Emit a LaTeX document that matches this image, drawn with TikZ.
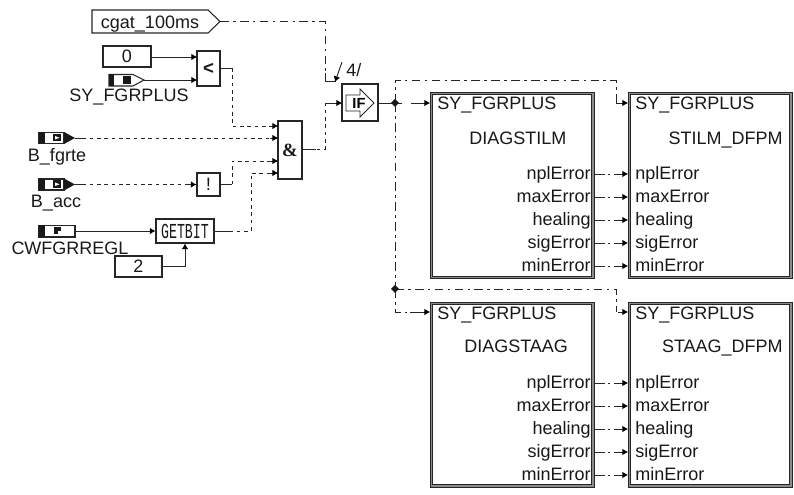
\documentclass[tikz,border=0pt]{standalone}
\usepackage{fontspec}
\setmainfont{Liberation Sans}
\newfontfamily\monof{Liberation Mono}
\newfontfamily\seriff{Liberation Serif}
\usetikzlibrary{arrows.meta,calc}
\tikzset{
  x=0.75pt,y=-0.75pt,
  wire/.style={line width=0.7pt,color=black!85},
  tip/.style={wire,-{Latex[length=4.2pt,width=5pt,black]}},
  logic/.style={wire,dash pattern=on 2.8pt off 2.7pt},
  calib/.style={wire,dash pattern=on 6.5pt off 3.2pt on 2pt off 3.2pt},
  port/.style={tip,dash pattern=on 8.5pt off 2.2pt on 1.8pt off 2.5pt on 20pt off 0pt},
  blk/.style={draw=black!85,line width=0.8pt,fill=white,inner sep=0pt,text=black!90},
  big/.style={draw=black!85,fill=white,line width=0.8pt,inner sep=0pt,
    double=black!45,double distance=1.1pt},
  lab/.style={inner sep=0pt,anchor=base,text=black!90,font=\fontsize{13.5pt}{15pt}\selectfont},
  labl/.style={lab,anchor=base west},
  labr/.style={lab,anchor=base east},
}
\begin{document}
\begin{tikzpicture}
\useasboundingbox (0,0) rectangle (794,495);

% input symbols
\draw[line width=0.8pt,color=black!85] (92,10) -- (208,10) -- (220,21.5) -- (208,33) -- (92,33) -- cycle;
\coordinate (cgatout) at (220,21.5);
\node[lab] (cgatlab) at (150,29) {cgat\_100ms};

\node[blk,minimum width=36pt,minimum height=15.75pt] (zero) at (127,56.5) {};
\node[lab] (zerolab) at (127,63) {0};

\draw[line width=0.8pt,color=black!85,fill=white] (109,74.5) -- (133,74.5) -- (144,80) -- (133,86) -- (109,86) -- cycle;
\fill[black!90] (109,74.5) rectangle (114,86);
\fill[black!90] (123,76.5) rectangle (131,84);
\coordinate (syout) at (144,80);
\node[lab] (sylab) at (129,102) {SY\_FGRPLUS};

\node[blk,minimum width=17.25pt,minimum height=26.25pt,font=\bfseries\fontsize{14pt}{14pt}\selectfont] (lt) at (208.5,68.5) {<};

% B_fgrte
\draw[line width=0.8pt,color=black!85,fill=white] (39,132.5) rectangle (64,143.5);
\fill[black!90] (39,132.5) rectangle (45,143.5);
\fill[black!90] (64,132) -- (75,138) -- (64,144) -- cycle;
\fill[black!90] (53,134) rectangle (61,141.5);
\fill[white] (55,136) -- (59.5,137.8) -- (55,139.5) -- cycle;
\coordinate (bfout) at (75,138);
\node[lab] (bflab) at (57,162) {B\_fgrte};

% B_acc
\draw[line width=0.8pt,color=black!85,fill=white] (39,179) rectangle (64,190);
\fill[black!90] (39,179) rectangle (45,190);
\fill[black!90] (64,178.5) -- (75,184.5) -- (64,190.5) -- cycle;
\fill[black!90] (53,180.5) rectangle (61,188);
\fill[white] (55,182.5) -- (59.5,184.3) -- (55,186) -- cycle;
\coordinate (baout) at (75,184.5);
\node[lab] (balab) at (56,208) {B\_acc};

% CWFGRREGL
\draw[line width=0.8pt,color=black!85,fill=white] (39,225.5) rectangle (75,237);
\fill[black!90] (39,225.5) rectangle (45,237);
\fill[black!90] (54,227.5) rectangle (61,234.5);
\fill[white] (57.5,231) rectangle (61,234.5);
\coordinate (cwout) at (75,231);
\node[lab] (cwlab) at (70,255) {CWFGRREGL};

\node[blk,minimum width=17.25pt,minimum height=17.25pt,font=\fontsize{14pt}{14pt}\monof] (nt) at (208.5,184.5) {!};

\node[blk,minimum width=43.5pt,minimum height=18pt] (gb) at (185,231) {\scalebox{0.62}[1]{\monof\fontsize{16pt}{16pt}\selectfont GETBIT}};

\node[blk,minimum width=35.25pt,minimum height=15.75pt,fill=none] (two) at (138.5,266.5) {};
\node[lab] (twolab) at (138.5,273) {2};

\node[blk,minimum width=18pt,minimum height=43.5pt,font=\seriff\bfseries\fontsize{14pt}{14pt}\selectfont] (an) at (290,150) {\&};

% IF block
\node[blk,minimum width=27pt,minimum height=27.75pt] (ifb) at (360,102.5) {};
\draw[line width=0.6pt,color=black!85,fill=white] (346,95) -- (360,95) -- (360,89) -- (374,103) -- (360,117) -- (360,111) -- (346,111) -- cycle;
\node[inner sep=0pt,font=\bfseries\fontsize{11pt}{11pt}\selectfont] (iflab) at (359,103) {IF};

% big boxes
\node[big,minimum width=121pt,minimum height=138pt,anchor=north west] (d1) at (431,93) {};
\node[big,minimum width=121pt,minimum height=138pt,anchor=north west] (s1) at (629,93) {};
\node[big,minimum width=121pt,minimum height=137pt,anchor=north west] (d2) at (431,303) {};
\node[big,minimum width=121pt,minimum height=137pt,anchor=north west] (s2) at (629,303) {};

\node[labl] (d1t) at (437,110) {SY\_FGRPLUS};
\node[labl] (s1t) at (635,110) {SY\_FGRPLUS};
\node[labl] (d2t) at (437,320) {SY\_FGRPLUS};
\node[labl] (s2t) at (635,320) {SY\_FGRPLUS};
\node[labl] (d1n) at (469,145) {DIAGSTILM};
\node[labl] (d2n) at (464,353) {DIAGSTAAG};
\node[labr] (s1n) at (783,145) {STILM\_DFPM};
\node[labr] (s2n) at (783,353) {STAAG\_DFPM};

\foreach \y/\t [count=\i] in {174/nplError,197/maxError,220/healing,243/sigError,266/minError}{
  \node[labr] (d1p\i) at (591,\y+6) {\t};
  \node[labl] (s1p\i) at (635,\y+6) {\t};
  \coordinate (d1o\i) at (593.5,\y);
  \coordinate (s1i\i) at (628,\y);
  \draw[port] (d1o\i) -- (s1i\i);
}
\foreach \y/\t [count=\i] in {383/nplError,406/maxError,429/healing,452/sigError,475/minError}{
  \node[labr] (d2p\i) at (591,\y+6) {\t};
  \node[labl] (s2p\i) at (635,\y+6) {\t};
  \coordinate (d2o\i) at (593.5,\y);
  \coordinate (s2i\i) at (628,\y);
  \draw[port] (d2o\i) -- (s2i\i);
}

% port coordinates
\coordinate (lti1) at (197,57);
\coordinate (lti2) at (197,80);
\coordinate (an1) at (278,126);
\coordinate (an2) at (278,138);
\coordinate (an3) at (278,161);
\coordinate (an4) at (278,173);
\coordinate (ano) at (302,149);
\coordinate (bus) at (325,81);
\coordinate (ifi) at (342,103);
\coordinate (ifo) at (378,103);
\coordinate (j1) at (395,103);
\coordinate (j2) at (395,289);
\coordinate (d1i) at (430,103);
\coordinate (s1ix) at (628,103);
\coordinate (d2i) at (430,312);
\coordinate (s2ix) at (628,312);
\coordinate (top) at (616,80);
\coordinate (ltb) at (232,68);
\coordinate (ntb) at (232,184.5);
\coordinate (gbb) at (251,231);
\coordinate (s4) at (336,81);

% solid connectors
\draw[tip] (zero.east |- lti1) -- (lti1);
\draw[tip] (syout) -- (lti2);
\draw[tip] (cwout) -- (gb.west);
\draw[tip] (two.east) -- (two.east -| gb.south) -- (gb.south);

% logic connectors
\draw[wire] (lt.east |- ltb) -- (ltb);
\draw[logic] (ltb) -- (ltb |- an1) -- (an1);
\draw[tip] ($(an1)+(-8,0)$) -- (an1);
\draw[logic] (bfout) -- (an2);
\draw[wire] (bfout) -- ++(11,0);
\draw[tip] ($(an2)+(-8,0)$) -- (an2);
\draw[logic] (baout) -- (nt.west);
\draw[wire] (baout) -- ++(11,0);
\draw[tip] ($(nt.west)+(-10,0)$) -- (nt.west);
\draw[wire] (nt.east) -- (ntb);
\draw[logic] (ntb) -- (ntb |- an3) -- (an3);
\draw[tip] ($(an3)+(-8,0)$) -- (an3);
\draw[logic] (gb.east) -- (gbb) -- (gbb |- an4) -- (an4);
\draw[wire] (gb.east) -- ++(14,0);
\draw[tip] ($(an4)+(-8,0)$) -- (an4);
\draw[logic] (ano) -- (ano -| bus) -- (ifi -| bus) -- (ifi);
\draw[wire] (ano) -- ++(14,0);
\draw[tip] (ifi -| bus) -- (ifi);

% function-call connectors
\draw[calib] (cgatout) -- (cgatout -| bus) -- (bus);
\draw[wire] (cgatout) -- ++(9,0);
\draw[wire] ($(bus)+(0,-8)$) -- (bus) -- (s4);
\draw[tip] (342,62) -- (335,82);
\node[lab,anchor=base west] (four) at (346,77) {4/};

\draw[wire] (ifo) -- (j1);
\draw[wire] (j1) -- ++(7,0);
\draw[tip] ($(d1i)+(-19,0)$) -- (d1i);
\draw[calib] (j1) -- (j1 |- top) -- (top) -- (top |- s1ix);
\draw[tip] ($(s1ix)+(-12,0)$) -- (s1ix);
\draw[wire] ($(top |- s1ix)+(0,-6)$) -- (top |- s1ix);
\draw[calib] (j1) -- (j2);
\draw[calib] (j2) -- (j2 |- d2i) -- (d2i);
\draw[tip] ($(d2i)+(-20,0)$) -- (d2i);
\draw[calib] (j2) -- (j2 -| top) -- (top |- s2ix);
\draw[tip] ($(s2ix)+(-10,0)$) -- (s2ix);
\fill[black!90] (j1) ++(-4,0) -- ++(4,-4) -- ++(4,4) -- ++(-4,4) -- cycle;
\fill[black!90] (j2) ++(-4,0) -- ++(4,-4) -- ++(4,4) -- ++(-4,4) -- cycle;
\end{tikzpicture}
\end{document}
